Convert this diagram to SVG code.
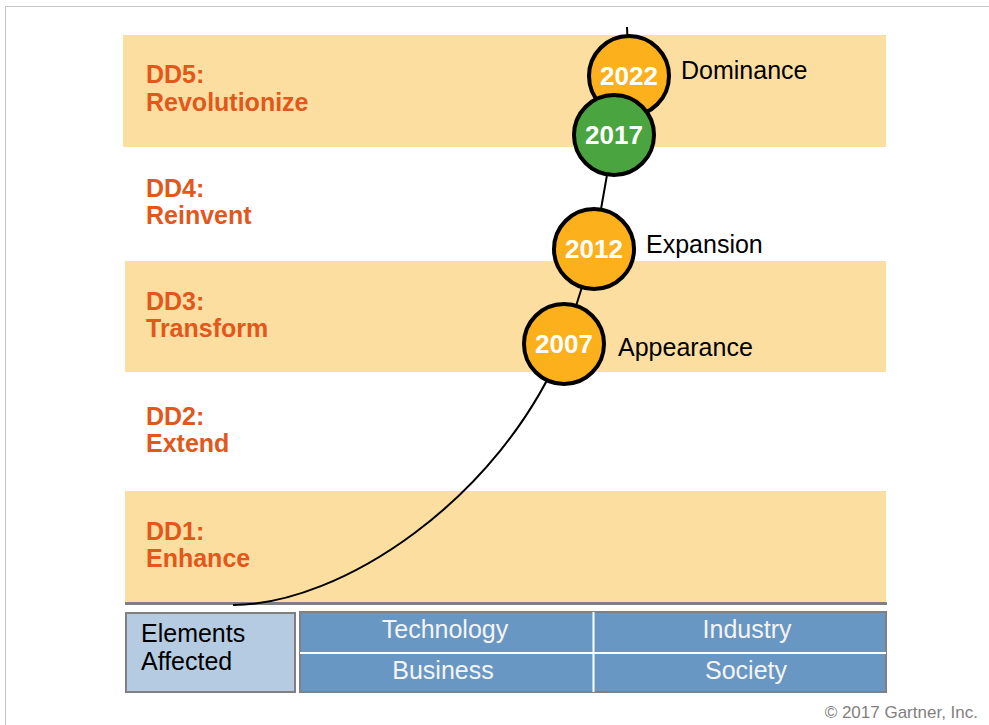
<svg xmlns="http://www.w3.org/2000/svg" width="989" height="725" viewBox="0 0 989 725">
<style>
.band{fill:#fcdea1}
.lvl{font-family:"Liberation Sans",Arial,sans-serif;font-weight:bold;font-size:25px;fill:#e3571b}
.yr{fill:#fbb01c;stroke:#000;stroke-width:4}
.yt{font-family:"Liberation Sans",Arial,sans-serif;font-weight:bold;font-size:26px;fill:#fff;text-anchor:middle}
.lb{font-family:"Liberation Sans",Arial,sans-serif;font-size:25px;fill:#000}
.wt{font-family:"Liberation Sans",Arial,sans-serif;font-size:25px;fill:#f4f4f4;text-anchor:middle}
</style>
<rect width="989" height="725" fill="#fff"/>
<path d="M5.5,725 V6.5 H989" fill="none" stroke="#c4c4c4" stroke-width="1"/>
<g id="bands">
<rect class="band" x="123" y="35" width="763" height="112"/>
<rect class="band" x="125" y="261" width="761" height="111"/>
<rect class="band" x="125" y="491" width="761" height="113"/>
<line x1="125" y1="603.5" x2="887" y2="603.5" stroke="#7f7f7f" stroke-width="3"/>
</g>
<g id="dd5"><text class="lvl" x="146" y="83">DD5:</text><text class="lvl" x="146" y="111">Revolutionize</text></g>
<g id="dd4"><text class="lvl" x="146" y="197">DD4:</text><text class="lvl" x="146" y="224">Reinvent</text></g>
<g id="dd3"><text class="lvl" x="146" y="310">DD3:</text><text class="lvl" x="146" y="337">Transform</text></g>
<g id="dd2"><text class="lvl" x="146" y="425">DD2:</text><text class="lvl" x="146" y="452">Extend</text></g>
<g id="dd1"><text class="lvl" x="146" y="540">DD1:</text><text class="lvl" x="146" y="567">Enhance</text></g>
<g id="connectors" fill="none" stroke="#000" stroke-width="2">
<path d="M233,605 C340,605 500,500 564,344 L594,249 L614,135 L629,76 L627,27"/>
</g>
<g id="y2022"><circle class="yr" cx="629" cy="76" r="40"/><text class="yt" x="629" y="85">2022</text></g>
<g id="y2017"><circle cx="614" cy="135" r="40" fill="#4aa540" stroke="#000" stroke-width="4"/><text class="yt" x="614" y="144">2017</text></g>
<g id="y2012"><circle class="yr" cx="594" cy="249" r="40"/><text class="yt" x="594" y="258">2012</text></g>
<g id="y2007"><circle class="yr" cx="564" cy="344" r="40"/><text class="yt" x="564" y="353">2007</text></g>
<g id="labels">
<text class="lb" x="681" y="79">Dominance</text>
<text class="lb" x="646" y="253">Expansion</text>
<text class="lb" x="618" y="356">Appearance</text>
</g>
<g id="elements">
<rect x="126" y="613" width="169" height="79" fill="#b5cbe2" stroke="#808080" stroke-width="2"/>
<text class="lb" x="141" y="642">Elements</text>
<text class="lb" x="141" y="670">Affected</text>
</g>
<g id="areas">
<rect x="300" y="612" width="586" height="80" fill="#6897c3" stroke="#808080" stroke-width="2"/>
<line x1="300" y1="653" x2="886" y2="653" stroke="#fff" stroke-width="2"/>
<line x1="593.5" y1="612" x2="593.5" y2="692" stroke="#fff" stroke-width="2"/>
<text class="wt" x="445" y="638">Technology</text>
<text class="wt" x="747" y="638">Industry</text>
<text class="wt" x="443" y="679">Business</text>
<text class="wt" x="746" y="679">Society</text>
</g>
<text x="978" y="718" text-anchor="end" font-family="Liberation Sans,Arial,sans-serif" font-size="17" fill="#7f7f7f">© 2017 Gartner, Inc.</text>
</svg>
